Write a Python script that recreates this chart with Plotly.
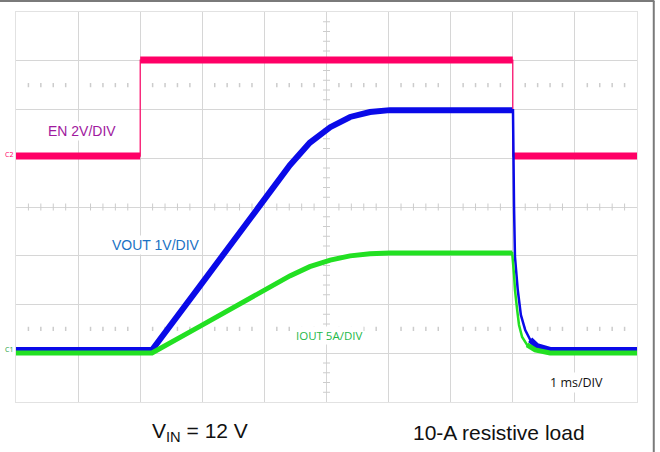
import numpy as np
import plotly.graph_objects as go

# ---------------- data (time in ms, 1 ms/div) ----------------
en_t = [0.0, 2.0, 2.0, 8.0, 8.0, 10.0]
en_v = [0.0, 0.0, 3.94, 3.94, 0.0, 0.0]          # V  (2 V/div)

vout_t = [0.0, 2.19, 2.96, 3.77, 4.41, 4.73, 5.06, 5.38, 5.70, 6.02, 7.99,
          8.003, 8.02, 8.035, 8.08, 8.13, 8.20, 8.28, 8.39, 8.60, 10.0]
vout_v = [0.0, 0.0, 1.31, 2.71, 3.79, 4.25, 4.57, 4.78, 4.88, 4.92, 4.92,
          4.92, 2.93, 1.91, 1.23, 0.72, 0.41, 0.21, 0.08, 0.0, 0.0]   # V (1 V/div)

iout_t = [0.0, 2.19, 2.96, 3.77, 4.41, 4.73, 5.06, 5.38, 5.70, 6.02, 7.99,
          8.02, 8.035, 8.07, 8.10, 8.15, 8.23, 8.36, 8.60, 10.0]
iout_a = [0.0, 0.0, 2.73, 5.65, 7.90, 8.85, 9.52, 9.96, 10.17, 10.25, 10.26,
          8.0, 6.46, 4.41, 2.87, 1.64, 0.82, 0.31, 0.0, 0.0]          # A (5 A/div)

labels = ["EN 2V/DIV", "VOUT 1V/DIV", "IOUT 5A/DIV", "1 ms/DIV"]
bottom_left = "V<sub>IN</sub> = 12 V"
bottom_right = "10-A resistive load"

EN_C, VO_C, IO_C = "#ff0066", "#0a0ae8", "#22e022"
GRID = "#d6d6d6"

fig = go.Figure()

# ---- graticule decorations ----
minor = [k * 0.2 for k in range(51) if k % 5 != 0]
minor_y = [k * 0.2 for k in range(41) if k % 5 != 0]
for yy in (1.5, 6.5):
    fig.add_trace(go.Scatter(x=minor, y=[yy] * len(minor), mode="markers",
                             marker=dict(symbol="line-ns", size=3, line=dict(width=1.5, color="#cccccc")),
                             hoverinfo="skip", showlegend=False))
fig.add_trace(go.Scatter(x=minor, y=[4] * len(minor), mode="markers",
                         marker=dict(symbol="line-ns", size=5, line=dict(width=1, color="#cccccc")),
                         hoverinfo="skip", showlegend=False))
fig.add_trace(go.Scatter(x=[5] * len(minor_y), y=minor_y, mode="markers",
                         marker=dict(symbol="line-ew", size=5, line=dict(width=1, color="#cccccc")),
                         hoverinfo="skip", showlegend=False))


def thick_parts(t, v, keep):
    xs, ys = [], []
    for i in range(len(t)):
        if keep(t[i], v[i]):
            xs.append(t[i]); ys.append(v[i])
        else:
            xs.append(None); ys.append(None)
    return xs, ys


# ---- EN ----
fig.add_trace(go.Scatter(x=en_t, y=en_v, mode="lines", yaxis="y2",
                         line=dict(color=EN_C, width=1.2), showlegend=False, hoverinfo="skip"))
ex, ey = [], []
for i in range(len(en_t)):
    if i > 0 and en_t[i] == en_t[i - 1]:
        ex.append(None); ey.append(None)
    ex.append(en_t[i]); ey.append(en_v[i])
fig.add_trace(go.Scatter(x=ex, y=ey, mode="lines", yaxis="y2",
                         line=dict(color=EN_C, width=7), showlegend=False, hoverinfo="skip"))

# ---- IOUT ----
fig.add_trace(go.Scatter(x=iout_t, y=iout_a, mode="lines", yaxis="y4",
                         line=dict(color=IO_C, width=2.5), showlegend=False, hoverinfo="skip"))
gx, gy = thick_parts(iout_t, iout_a, lambda t, v: t <= 7.995 or t >= 8.2)
fig.add_trace(go.Scatter(x=gx, y=gy, mode="lines", yaxis="y4", connectgaps=False,
                         line=dict(color=IO_C, width=5), showlegend=False, hoverinfo="skip"))

# ---- VOUT ----
fig.add_trace(go.Scatter(x=vout_t, y=vout_v, mode="lines", yaxis="y3",
                         line=dict(color=VO_C, width=2.5), showlegend=False, hoverinfo="skip"))
bx, by = thick_parts(vout_t, vout_v, lambda t, v: t <= 7.995 or t >= 8.25)
fig.add_trace(go.Scatter(x=bx, y=by, mode="lines", yaxis="y3", connectgaps=False,
                         line=dict(color=VO_C, width=6), showlegend=False, hoverinfo="skip"))

# ---- trigger markers ----
fig.add_trace(go.Scatter(x=[2.0], y=[-0.05], mode="markers", cliponaxis=False,
                         marker=dict(symbol="triangle-up", size=7, color=EN_C),
                         showlegend=False, hoverinfo="skip"))
fig.add_trace(go.Scatter(x=[10.03], y=[6.0], mode="markers", cliponaxis=False,
                         marker=dict(symbol="triangle-left", size=7, color=EN_C),
                         showlegend=False, hoverinfo="skip"))

# ---- annotations ----
ann = [
    dict(x=1.06, y=5.56, text=labels[0], font=dict(family="Liberation Sans, Arial", size=14, color="#a0199e")),
    dict(x=2.25, y=3.22, text=labels[1], font=dict(family="Liberation Sans, Arial", size=14, color="#1a72c4")),
    dict(x=5.04, y=1.37, text=labels[2], font=dict(family="Open Sans", size=11.5, color="#22b848")),
    dict(x=9.02, y=0.40, text=labels[3], font=dict(family="Open Sans", size=12.5, color="#111111")),
]
for a in ann:
    fig.add_annotation(xref="x", yref="y", showarrow=False, bgcolor="white", borderpad=1,
                       xanchor="center", yanchor="middle", **a)

fig.add_annotation(xref="paper", yref="paper", x=0.296, y=-0.077, text=bottom_left, showarrow=False,
                   xanchor="center", yanchor="middle",
                   font=dict(family="Liberation Sans, Arial", size=21, color="#111111"))
fig.add_annotation(xref="paper", yref="paper", x=0.778, y=-0.077, text=bottom_right, showarrow=False,
                   xanchor="center", yanchor="middle",
                   font=dict(family="Liberation Sans, Arial", size=21, color="#111111"))

# small channel markers on left
fig.add_annotation(xref="paper", yref="y2", x=-0.001, y=0.05, text="C2", showarrow=False,
                   xanchor="right", yanchor="middle", font=dict(size=7, color=EN_C))
fig.add_annotation(xref="paper", yref="y3", x=-0.001, y=0.0, text="C1", showarrow=False,
                   xanchor="right", yanchor="middle", font=dict(size=7, color="#22a040"))

# frame of the screenshot (top and right edges)
fig.add_shape(type="line", xref="paper", yref="paper", x0=-0.03, x1=1.028, y0=1.028, y1=1.028,
              layer="above", line=dict(color="#7a7a7a", width=2))
fig.add_shape(type="line", xref="paper", yref="paper", x0=1.027, x1=1.027, y0=-0.13, y1=1.028,
              layer="above", line=dict(color="#7a7a7a", width=2))

axis_common = dict(showticklabels=False, ticks="", zeroline=False, fixedrange=True)
fig.update_layout(
    width=660, height=452,
    margin=dict(l=16, r=23, t=12, b=50),
    paper_bgcolor="white", plot_bgcolor="white",
    xaxis=dict(range=[0, 10], dtick=1, showgrid=True, gridcolor=GRID, gridwidth=1,
               showline=True, mirror=True, linecolor="#e2e2e2", linewidth=1, **axis_common),
    yaxis=dict(range=[0, 8], dtick=1, showgrid=True, gridcolor=GRID, gridwidth=1,
               showline=True, mirror=True, linecolor="#e2e2e2", linewidth=1, **axis_common),
    yaxis2=dict(overlaying="y", range=[-10.09, 5.91], visible=False),
    yaxis3=dict(overlaying="y", range=[-1.067, 6.933], visible=False),
    yaxis4=dict(overlaying="y", range=[-5.03, 34.97], visible=False),
    showlegend=False,
)

fig.write_html("out.html", config={"displayModeBar": False},
               post_script="document.body.style.margin='0px';")
